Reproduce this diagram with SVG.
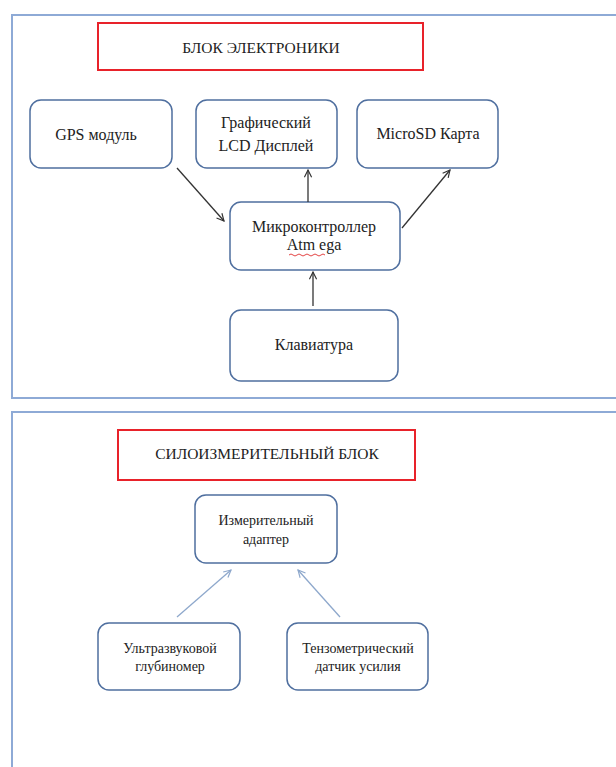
<svg xmlns="http://www.w3.org/2000/svg" width="616" height="767" viewBox="0 0 616 767">
<defs>
<style>
.frame{fill:none;stroke:#8eaad6;stroke-width:2}
.title{fill:#fff;stroke:#e8222a;stroke-width:2}
.node{fill:#fff;stroke:#4f6f9f;stroke-width:1.5}
.t{font-size:16px;fill:#222;text-anchor:middle}
.ts{font-size:14px;fill:#222;text-anchor:middle}
.tt{font-size:15.5px;fill:#222;text-anchor:middle}
.c1{stroke:#333;stroke-width:1.3;fill:none}
.c2{stroke:#8ea8cc;stroke-width:1.3;fill:none}
</style>
<marker id="a1" viewBox="0 0 10 10" refX="9" refY="5" markerWidth="9" markerHeight="9" orient="auto" markerUnits="userSpaceOnUse">
<path d="M1,1 L9,5 L1,9" fill="none" stroke="#333" stroke-width="1.3"/>
</marker>
<marker id="a2" viewBox="0 0 10 10" refX="9" refY="5" markerWidth="9" markerHeight="9" orient="auto" markerUnits="userSpaceOnUse">
<path d="M1,1 L9,5 L1,9" fill="none" stroke="#8ea8cc" stroke-width="1.3"/>
</marker>
</defs>
<rect width="616" height="767" fill="#fff"/>
<rect class="frame" x="12" y="15" width="610" height="383"/>
<rect class="frame" x="12" y="412" width="610" height="370"/>
<g font-family="'Liberation Serif', 'Times New Roman', 'DejaVu Serif', serif">
<g id="title1"><rect class="title" x="98" y="23" width="325" height="47"/><text class="tt" x="261" y="53">БЛОК ЭЛЕКТРОНИКИ</text></g>
<g id="gps"><rect class="node" x="30" y="100" width="142" height="68" rx="11"/><text class="t" x="96" y="140">GPS модуль</text></g>
<g id="lcd"><rect class="node" x="196" y="100" width="141" height="68" rx="11"/><text class="t" x="266" y="128">Графический</text><text class="t" x="266" y="151">LCD Дисплей</text></g>
<g id="sd"><rect class="node" x="357" y="100" width="141" height="68" rx="11"/><text class="t" x="428" y="139">MicroSD Карта</text></g>
<g id="mcu"><rect class="node" x="230" y="202" width="170" height="68" rx="11"/><text class="t" x="314" y="232">Микроконтроллер</text><text class="t" x="314" y="250">Atm ega</text><path d="M289,255 q2,-2 4,0 t4,0 t4,0 t4,0 t4,0 t4,0 t4,0 t4,0 t4,0" fill="none" stroke="#e03030" stroke-width="0.9"/></g>
<g id="kbd"><rect class="node" x="230" y="310" width="168" height="71" rx="11"/><text class="t" x="314" y="350">Клавиатура</text></g>

<g id="title2"><rect class="title" x="118" y="430" width="297" height="50"/><text class="tt" x="267" y="459">СИЛОИЗМЕРИТЕЛЬНЫЙ БЛОК</text></g>
<g id="adapter"><rect class="node" x="195" y="495" width="142" height="68" rx="11"/><text class="ts" x="266" y="525">Измерительный</text><text class="ts" x="266" y="544">адаптер</text></g>
<g id="us"><rect class="node" x="98" y="623" width="142" height="67" rx="11"/><text class="ts" x="170" y="653">Ультразвуковой</text><text class="ts" x="170" y="671">глубиномер</text></g>
<g id="tenzo"><rect class="node" x="287" y="623" width="141" height="67" rx="11"/><text class="ts" x="358" y="653">Тензометрический</text><text class="ts" x="358" y="671">датчик усилия</text></g>
</g>
<g id="connectors">
<line class="c1" x1="177" y1="168" x2="224" y2="221" marker-end="url(#a1)"/>
<line class="c1" x1="308" y1="202" x2="308" y2="170" marker-end="url(#a1)"/>
<line class="c1" x1="402" y1="228" x2="450" y2="170" marker-end="url(#a1)"/>
<line class="c1" x1="313" y1="306" x2="313" y2="272" marker-end="url(#a1)"/>
<line class="c2" x1="177" y1="617" x2="231" y2="570" marker-end="url(#a2)"/>
<line class="c2" x1="340" y1="617" x2="298" y2="570" marker-end="url(#a2)"/>
</g>
</svg>
